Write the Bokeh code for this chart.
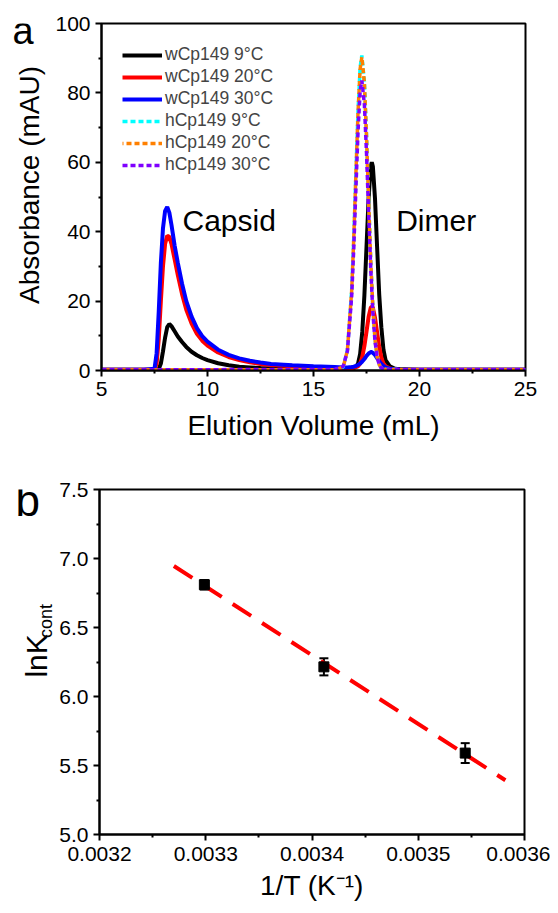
import math
from bokeh.plotting import figure
from bokeh.layouts import column, row
from bokeh.models import (Range1d, FixedTicker, PrintfTickFormatter, Label,
                          ColumnDataSource, Whisker, TeeHead, Legend, LegendItem)
from bokeh.embed import file_html
from bokeh.resources import INLINE

FONT = "Liberation Sans"

# ---------------- Panel a data (elution profiles) ----------------
vol = [5.0, 7.0, 7.5, 7.6, 7.7, 7.8, 7.9, 8.0, 8.1, 8.2, 8.3, 8.45, 8.6, 8.8, 9.0,
       9.25, 9.5, 9.75, 10.0, 10.5, 11.0, 11.5, 12.0, 12.5, 13.0, 14.0, 15.0, 16.0,
       16.4, 16.6, 16.8, 16.9, 17.0, 17.1, 17.2, 17.3, 17.4, 17.5, 17.6, 17.7, 17.75,
       17.8, 17.9, 18.0, 18.1, 18.2, 18.3, 18.4, 18.6, 18.8, 19.0, 19.5, 20.0, 22.0, 25.0]

w9 = [0.2, 0.2, 0.2, 0.2, 0.4, 2.0, 5.5, 9.5, 12.5, 13.4, 12.8, 11.3, 9.8, 8.2, 6.8,
      5.4, 4.4, 3.6, 3.0, 2.1, 1.5, 1.1, 0.9, 0.7, 0.6, 0.5, 0.4, 0.4,
      0.4, 0.5, 0.6, 0.7, 1.0, 2.0, 4.8, 11.1, 21.6, 35.6, 49.7, 58.8, 60.0,
      58.8, 49.7, 35.6, 21.9, 12.5, 6.0, 3.0, 1.2, 0.6, 0.4, 0.3, 0.2, 0.2, 0.2]

w20 = [0.2, 0.2, 0.2, 2.0, 9.0, 20.0, 30.0, 36.5, 38.8, 38.5, 36.5, 32.0, 27.5, 22.0, 17.5,
       13.5, 10.6, 8.6, 7.2, 5.2, 3.9, 3.0, 2.4, 1.9, 1.6, 1.2, 0.9, 0.7,
       0.6, 0.6, 0.7, 0.8, 1.0, 1.2, 2.0, 3.9, 7.0, 11.2, 15.5, 18.1, 18.4,
       18.1, 15.3, 11.0, 6.8, 3.8, 2.0, 1.2, 0.6, 0.4, 0.3, 0.25, 0.2, 0.2, 0.2]

w30 = [0.2, 0.2, 0.5, 5.0, 17.0, 31.0, 41.0, 46.0, 47.1, 45.5, 42.0, 36.0, 31.0, 25.0, 20.0,
       15.5, 12.2, 9.9, 8.3, 6.0, 4.5, 3.5, 2.8, 2.3, 1.9, 1.5, 1.2, 1.0,
       0.9, 0.9, 1.0, 1.1, 1.3, 1.6, 2.0, 2.6, 3.3, 4.2, 4.9, 5.3, 5.3,
       5.1, 4.5, 3.6, 2.7, 1.9, 1.3, 0.9, 0.5, 0.4, 0.3, 0.25, 0.2, 0.2, 0.2]

hvol = [5.0, 16.0, 16.4, 16.6, 16.8, 16.9, 17.0, 17.1, 17.2, 17.28, 17.4, 17.5, 17.6,
        17.7, 17.8, 17.9, 18.0, 18.1, 18.2, 18.4, 20.0, 25.0]
h9 = [0.2, 0.2, 1.0, 5.9, 23.1, 38.4, 56.9, 74.8, 87.4, 90.8, 83.3, 68.1, 49.3,
      31.8, 18.2, 9.2, 4.1, 1.7, 0.7, 0.3, 0.2, 0.2]
h20 = [0.2, 0.2, 1.0, 5.8, 22.9, 38.2, 56.6, 74.4, 86.9, 90.3, 82.9, 67.7, 49.1,
       31.6, 18.1, 9.1, 4.1, 1.7, 0.7, 0.3, 0.2, 0.2]
h30 = [0.2, 0.3, 1.2, 5.6, 21.3, 35.4, 52.4, 68.9, 80.5, 83.6, 76.7, 62.7, 45.5,
       29.3, 16.8, 8.5, 3.9, 1.7, 0.7, 0.3, 0.2, 0.2]

labels_a = ["wCp149 9°C", "wCp149 20°C", "wCp149 30°C",
            "hCp149 9°C", "hCp149 20°C", "hCp149 30°C"]
a_xticks = [5, 10, 15, 20, 25]
a_xminor = [7.5, 12.5, 17.5, 22.5]
a_yticks = [0, 20, 40, 60, 80, 100]
a_yminor = [10, 30, 50, 70, 90]
peak_names = ["Capsid", "Dimer"]
peak_text_x = [8.82, 18.9]
peak_text_y = [43.3, 43.3]

# ---------------- Panel b data (van 't Hoff) ----------------
inv_T = [0.0032987, 0.0034112, 0.0035442]
lnK = [6.81, 6.215, 5.59]
lnK_err = [0.035, 0.062, 0.072]
fit_x = [0.003270, 0.003582]
fit_y = [6.946, 5.393]
b_xticks = [0.0032, 0.0033, 0.0034, 0.0035, 0.0036]
b_xminor = [0.00325, 0.00335, 0.00345, 0.00355]
b_yticks = [5.0, 5.5, 6.0, 6.5, 7.0, 7.5]
b_yminor = [5.25, 5.75, 6.25, 6.75, 7.25]


def style_axes(p, xt, xm, yt, ym):
    p.xgrid.visible = False
    p.ygrid.visible = False
    p.outline_line_color = "black"
    p.outline_line_width = 2
    p.outline_line_alpha = 1
    p.xaxis.ticker = FixedTicker(ticks=xt, minor_ticks=xm)
    p.yaxis.ticker = FixedTicker(ticks=yt, minor_ticks=ym)
    for ax in (p.xaxis[0], p.yaxis[0]):
        ax.axis_line_width = 2
        ax.axis_line_color = "black"
        ax.major_tick_line_width = 2
        ax.minor_tick_line_width = 2
        ax.major_tick_out = 6
        ax.major_tick_in = 0
        ax.minor_tick_out = 3
        ax.minor_tick_in = 0
        ax.major_label_text_font = FONT
        ax.major_label_text_font_size = "21px"
        ax.major_label_text_color = "black"
        ax.axis_label_text_font = FONT
        ax.axis_label_text_font_size = "28px"
        ax.axis_label_text_font_style = "normal"
        ax.axis_label_text_color = "black"


def make_strip(w, h):
    s = figure(width=w, height=h, output_backend="svg", toolbar_location=None,
               x_range=Range1d(0, w), y_range=Range1d(0, h),
               x_axis_type=None, y_axis_type=None, min_border=0,
               outline_line_color=None)
    s.xgrid.visible = False
    s.ygrid.visible = False
    return s


def strip_label(s, h, x, y_from_top, text, size, angle=0.0, align="left"):
    s.add_layout(Label(x=x, y=h - y_from_top, text=text, angle=angle,
                       text_font=FONT, text_font_size=size, text_color="black",
                       text_baseline="middle", text_align=align))


HA = 454
HB = 455
SA = 52   # left strip width, panel a
SB = 56   # left strip width, panel b

# ---------------- Panel a ----------------
pa = figure(width=550 - SA, height=HA, output_backend="svg", toolbar_location=None,
            x_range=Range1d(5, 25), y_range=Range1d(0, 100),
            min_border_left=99 - SA, min_border_right=25, min_border_top=23,
            min_border_bottom=HA - 23 - 347)
style_axes(pa, a_xticks, a_xminor, a_yticks, a_yminor)
pa.xaxis.axis_label = "Elution Volume (mL)"
pa.xaxis.axis_label_standoff = 11

r1 = pa.line(vol, w9, line_color="#000000", line_width=4)
r2 = pa.line(vol, w20, line_color="#FF0000", line_width=4)
r3 = pa.line(vol, w30, line_color="#0000FF", line_width=4)
r4 = pa.line(hvol, h9, line_color="#00FFFF", line_width=3.5, line_dash="5 3")
r5 = pa.line(hvol, h20, line_color="#FF8000", line_width=3.5, line_dash="5 3",
             line_dash_offset=4)
r6 = pa.line(hvol, h30, line_color="#7F00FF", line_width=3.5, line_dash="5 3")

legend = Legend(items=[LegendItem(label=l, renderers=[r])
                       for l, r in zip(labels_a, [r1, r2, r3, r4, r5, r6])],
                location="top_left")
legend.border_line_alpha = 0
legend.background_fill_alpha = 0
legend.label_text_font = FONT
legend.label_text_font_size = "17.5px"
legend.glyph_width = 40
legend.glyph_height = 18
legend.label_height = 18
legend.spacing = 1
legend.margin = 12
legend.padding = 9
legend.label_standoff = 3
pa.add_layout(legend)

for name, tx, ty in zip(peak_names, peak_text_x, peak_text_y):
    pa.add_layout(Label(x=tx, y=ty, text=name, text_font=FONT,
                        text_font_size="30px", text_color="black",
                        text_baseline="middle"))

strip_a = make_strip(SA, HA)
strip_label(strip_a, HA, 12, 10, "a", "38px")
strip_label(strip_a, HA, 29, 367, "Absorbance (mAU)", "28px", angle=math.pi / 2)

# ---------------- Panel b ----------------
top_b = 489 - HA
pb = figure(width=550 - SB, height=HB, output_backend="svg", toolbar_location=None,
            x_range=Range1d(0.0032, 0.0036), y_range=Range1d(5.0, 7.5),
            min_border_left=97 - SB, min_border_right=26, min_border_top=top_b,
            min_border_bottom=HB - top_b - 345)
style_axes(pb, b_xticks, b_xminor, b_yticks, b_yminor)
pb.xaxis.formatter = PrintfTickFormatter(format="%.4f")
pb.yaxis.formatter = PrintfTickFormatter(format="%.1f")
pb.xaxis.axis_label = "1/T (K\u207b\u00b9)"
pb.xaxis.axis_label_standoff = 6
pb.xaxis.major_label_standoff = 6

pb.line(fit_x, fit_y, line_color="#FF0000", line_width=4, line_dash="22 13")

src = ColumnDataSource(dict(x=inv_T, y=lnK,
                            lo=[v - e for v, e in zip(lnK, lnK_err)],
                            hi=[v + e for v, e in zip(lnK, lnK_err)]))
pb.add_layout(Whisker(source=src, base="x", lower="lo", upper="hi",
                      line_color="black", line_width=2,
                      lower_head=TeeHead(size=9, line_width=2, line_color="black"),
                      upper_head=TeeHead(size=9, line_width=2, line_color="black")))
pb.scatter("x", "y", source=src, marker="square", size=10, color="black")

strip_b = make_strip(SB, HB)
strip_label(strip_b, HB, 15, 468 - HA, "b", "44px")
strip_label(strip_b, HB, 36, 702 - HA, "lnK", "30px", angle=math.pi / 2)
strip_label(strip_b, HB, 45, 650 - HA, "cont", "18px", angle=math.pi / 2)

layout = column(row(strip_a, pa, spacing=0), row(strip_b, pb, spacing=0), spacing=0)
open("out.html", "w").write(file_html(layout, INLINE))
